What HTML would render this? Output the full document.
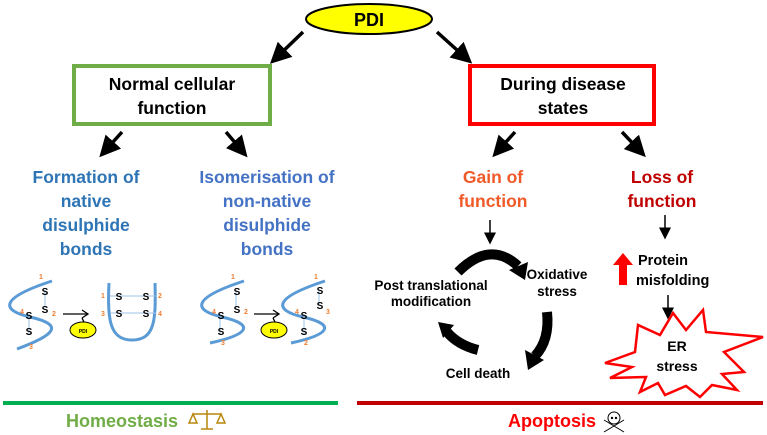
<!DOCTYPE html>
<html><head><meta charset="utf-8"><style>
html,body{margin:0;padding:0;background:#fff;}
svg{display:block;font-family:"Liberation Sans",Arial,sans-serif;font-weight:bold;}
</style></head><body>
<svg width="767" height="435" viewBox="0 0 767 435" xmlns="http://www.w3.org/2000/svg">
<defs>
<marker id="ah" markerWidth="6" markerHeight="6" refX="4" refY="3" orient="auto" markerUnits="strokeWidth"><path d="M0,0 L6,3 L0,6 Z" fill="#000"/></marker>
<marker id="ah2" markerWidth="8" markerHeight="8" refX="5" refY="4" orient="auto" markerUnits="strokeWidth"><path d="M0,0 L8,4 L0,8 Z" fill="#000"/></marker>
</defs>
<ellipse cx="369" cy="19" rx="63" ry="15" fill="#ffff00" stroke="#000" stroke-width="2"/>
<text x="369" y="26" font-size="18" text-anchor="middle">PDI</text>
<g stroke="#000" stroke-width="3.5" fill="none" marker-end="url(#ah)">
<line x1="303" y1="32" x2="275" y2="59"/>
<line x1="437" y1="32" x2="467" y2="59"/>
<line x1="122" y1="132" x2="104" y2="152"/>
<line x1="226" y1="132" x2="243" y2="152"/>
<line x1="515" y1="132" x2="497" y2="152"/>
<line x1="622" y1="132" x2="641" y2="152"/>
</g>
<g stroke="#000" stroke-width="1.5" fill="none" marker-end="url(#ah2)">
<line x1="490" y1="220" x2="490" y2="240"/>
<line x1="665" y1="215" x2="665" y2="235"/>
<line x1="668" y1="295" x2="668" y2="315"/>
</g>
<rect x="74" y="66" width="196" height="58" fill="none" stroke="#70ad47" stroke-width="4"/>
<text x="172" y="90" font-size="17.5" text-anchor="middle">Normal cellular</text>
<text x="172" y="114" font-size="17.5" text-anchor="middle">function</text>
<rect x="470" y="66" width="184" height="58" fill="none" stroke="#ff0000" stroke-width="4"/>
<text x="563" y="90" font-size="17.5" text-anchor="middle">During disease</text>
<text x="563" y="114" font-size="17.5" text-anchor="middle">states</text>
<g font-size="17.5" fill="#2e75b6" text-anchor="middle">
<text x="86" y="183">Formation of</text>
<text x="86" y="207">native</text>
<text x="86" y="231">disulphide</text>
<text x="86" y="255">bonds</text>
</g>
<g font-size="17.5" fill="#4472c4" text-anchor="middle">
<text x="267" y="183">Isomerisation of</text>
<text x="267" y="207">non-native</text>
<text x="267" y="231">disulphide</text>
<text x="267" y="255">bonds</text>
</g>
<g font-size="17.5" text-anchor="middle">
<text x="493" y="183" fill="#f05a28">Gain of</text>
<text x="493" y="207" fill="#f05a28">function</text>
<text x="662" y="183" fill="#c00000">Loss of</text>
<text x="662" y="207" fill="#c00000">function</text>
</g>
<g fill="none" stroke="#5b9bd5" stroke-width="3">
<path d="M52,281 C0,298 0,310 30,317 C65,325 55,335 17,349"/>
<path d="M109,283 C107,320 110,340 132,340 C155,340 156,320 155,283"/>
<path d="M244,281 C192,298 192,310 222,317 C257,325 247,335 210,343"/>
<path d="M325,281 C273,298 273,310 303,317 C338,325 328,335 291,343"/>
</g>
<g stroke="#9dc3e6" stroke-width="1">
<line x1="45" y1="290" x2="45" y2="308"/><line x1="29" y1="314" x2="29" y2="334"/>
<line x1="110" y1="296" x2="156" y2="296"/><line x1="110" y1="313" x2="156" y2="313"/>
<line x1="236" y1="290" x2="236" y2="308"/><line x1="220" y1="314" x2="220" y2="334"/>
<line x1="319" y1="290" x2="319" y2="305"/><line x1="304" y1="314" x2="304" y2="334"/>
</g>
<g font-size="10" fill="#000" text-anchor="middle">
<text x="45" y="295">S</text><text x="45" y="313">S</text><text x="29" y="319">S</text><text x="29" y="335">S</text>
<text x="119" y="300">S</text><text x="146" y="300">S</text><text x="119" y="317">S</text><text x="146" y="317">S</text>
<text x="237" y="295">S</text><text x="237" y="313">S</text><text x="221" y="319">S</text><text x="221" y="335">S</text>
<text x="320" y="294">S</text><text x="320" y="309">S</text><text x="304" y="319">S</text><text x="304" y="335">S</text>
</g>
<g font-size="7" fill="#ed7d31" text-anchor="middle">
<text x="41" y="279">1</text><text x="54" y="316">2</text><text x="31" y="349">3</text><text x="22" y="314">4</text>
<text x="103" y="298">1</text><text x="160" y="298">2</text><text x="103" y="316">3</text><text x="160" y="316">4</text>
<text x="233" y="279">1</text><text x="246" y="314">2</text><text x="223" y="345">3</text><text x="214" y="314">4</text>
<text x="316" y="279">1</text><text x="328" y="314">3</text><text x="306" y="345">2</text><text x="297" y="314">4</text>
</g>
<g stroke="#000" stroke-width="1.3" fill="none">
<line x1="63" y1="314" x2="87" y2="314"/><path d="M82,310 L88,314 L82,318"/><line x1="82" y1="318" x2="86" y2="326"/>
<line x1="254" y1="314" x2="278" y2="314"/><path d="M273,310 L279,314 L273,318"/><line x1="273" y1="318" x2="277" y2="326"/>
</g>
<ellipse cx="83" cy="330" rx="13" ry="8" fill="#ffff00" stroke="#000" stroke-width="1"/>
<text x="83" y="333" font-size="5" text-anchor="middle">PDI</text>
<ellipse cx="274" cy="330" rx="13" ry="8" fill="#ffff00" stroke="#000" stroke-width="1"/>
<text x="274" y="333" font-size="5" text-anchor="middle">PDI</text>
<g fill="none" stroke="#000" stroke-width="10">
<path d="M458,272 Q490,240 518,266"/>
<path d="M547,312 Q550,340 535,356"/>
<path d="M478,350 Q458,345 447,332"/>
</g>
<g fill="#000">
<polygon points="509,270 528,262 525,280"/>
<polygon points="525,350 544,360 528,370"/>
<polygon points="454,325 438,322 443,338"/>
</g>
<g font-size="13.5" fill="#000" text-anchor="middle">
<text x="431" y="290">Post translational</text>
<text x="431" y="306">modification</text>
<text x="557" y="279">Oxidative</text>
<text x="557" y="296">stress</text>
<text x="478" y="378">Cell death</text>
</g>
<polygon points="623,253 633,265 627,265 627,285 619,285 619,265 613,265" fill="#ff0000"/>
<text x="638" y="265" font-size="14.5">Protein</text>
<text x="636" y="285" font-size="14.5">misfolding</text>
<polygon points="605,363 635,352 638,325 660,335 673,313 686,330 703,310 706,332 763,337 724,352 744,372 722,374 737,390 712,385 700,397 686,386 665,395 658,383 640,392 646,377 610,378 632,367" fill="#fff" stroke="#ff0000" stroke-width="2.5"/>
<text x="677" y="351" font-size="14" text-anchor="middle">ER</text>
<text x="677" y="371" font-size="14" text-anchor="middle">stress</text>
<rect x="3" y="401" width="335" height="4" fill="#00b050"/>
<rect x="357" y="401" width="406" height="4" fill="#c00000"/>
<text x="122" y="427" font-size="18" fill="#70ad47" text-anchor="middle">Homeostasis</text>
<g stroke="#b8860b" stroke-width="1.5" fill="none">
<line x1="207" y1="410" x2="207" y2="429"/><line x1="193" y1="414" x2="221" y2="414"/>
<path d="M189,423 L193,414 L197,423 Z M217,423 L221,414 L225,423 Z"/><line x1="201" y1="429" x2="213" y2="429"/>
</g>
<text x="552" y="427" font-size="18" fill="#ff0000" text-anchor="middle">Apoptosis</text>
<g stroke="#000" stroke-width="1" fill="#fff">
<line x1="604" y1="420" x2="624" y2="432"/><line x1="624" y1="420" x2="604" y2="432"/>
<circle cx="614" cy="418" r="6"/>
</g>
<circle cx="612" cy="418" r="1.2"/><circle cx="616" cy="418" r="1.2"/>
</svg>
</body></html>
